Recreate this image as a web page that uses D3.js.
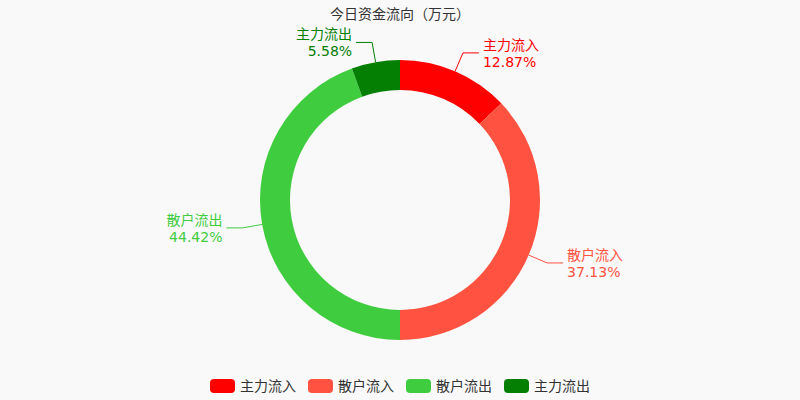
<!DOCTYPE html>
<html>
<head>
<meta charset="UTF-8">
<script src="https://d3js.org/d3.v7.min.js"></script>
<style>
  body { margin: 0; background: #f9f9f9; }
  text { font-family: "DejaVu Sans", "Noto Sans CJK SC", sans-serif; }
</style>
</head>
<body>
<svg id="chart" width="800" height="400"></svg>
<script>
const categories = ["主力流入", "散户流入", "散户流出", "主力流出"];
const values = [12.87, 37.13, 44.42, 5.58];
const colors = ["#ff0000", "#ff5240", "#3fcd3f", "#047f04"];

const svg = d3.select("#chart");
svg.append("rect").attr("width", 800).attr("height", 400).attr("fill", "#f9f9f9");

svg.append("text").attr("x", 400).attr("y", 19).attr("text-anchor", "middle")
  .attr("font-size", 14).attr("fill", "#333").text("今日资金流向（万元）");

const cx = 400, cy = 200, r0 = 110, r1 = 140;
const data = categories.map((c, i) => ({ name: c, value: values[i], color: colors[i] }));
const pie = d3.pie().value(d => d.value).sort(null);
const arc = d3.arc().innerRadius(r0).outerRadius(r1);
const g = svg.append("g").attr("transform", `translate(${cx},${cy})`);
const arcs = pie(data);

g.selectAll("path").data(arcs).enter().append("path")
  .attr("d", arc).attr("fill", d => d.data.color);

arcs.forEach(a => {
  const m = (a.startAngle + a.endAngle) / 2;
  const s = Math.sin(m), c = -Math.cos(m);
  const p1 = [s * r1, c * r1], p2 = [s * (r1 + 20), c * (r1 + 20)];
  const dir = s >= 0 ? 1 : -1;
  const p3 = [p2[0] + dir * 16, p2[1]];
  g.append("polyline").attr("points", [p1, p2, p3].map(p => p.join(",")).join(" "))
    .attr("fill", "none").attr("stroke", a.data.color).attr("stroke-width", 1);
  const t = g.append("text").attr("font-size", 14).attr("fill", a.data.color)
    .attr("text-anchor", dir > 0 ? "start" : "end");
  t.append("tspan").attr("x", p3[0] + dir * 4).attr("y", p3[1] - 3).text(a.data.name);
  t.append("tspan").attr("x", p3[0] + dir * 4).attr("y", p3[1] + 14).text(a.data.value.toFixed(2) + "%");
});

// legend
const lg = svg.append("g");
let x = 0;
const items = [];
data.forEach(d => {
  const it = lg.append("g").attr("transform", `translate(${x},0)`);
  it.append("rect").attr("width", 25).attr("height", 14).attr("rx", 4).attr("fill", d.color);
  const tx = it.append("text").attr("x", 30).attr("y", 12).attr("font-size", 14).attr("fill", "#333").text(d.name);
  x += 30 + tx.node().getComputedTextLength() + 12;
});
const lw = x - 12;
lg.attr("transform", `translate(${400 - lw / 2},379)`);
</script>
</body>
</html>
